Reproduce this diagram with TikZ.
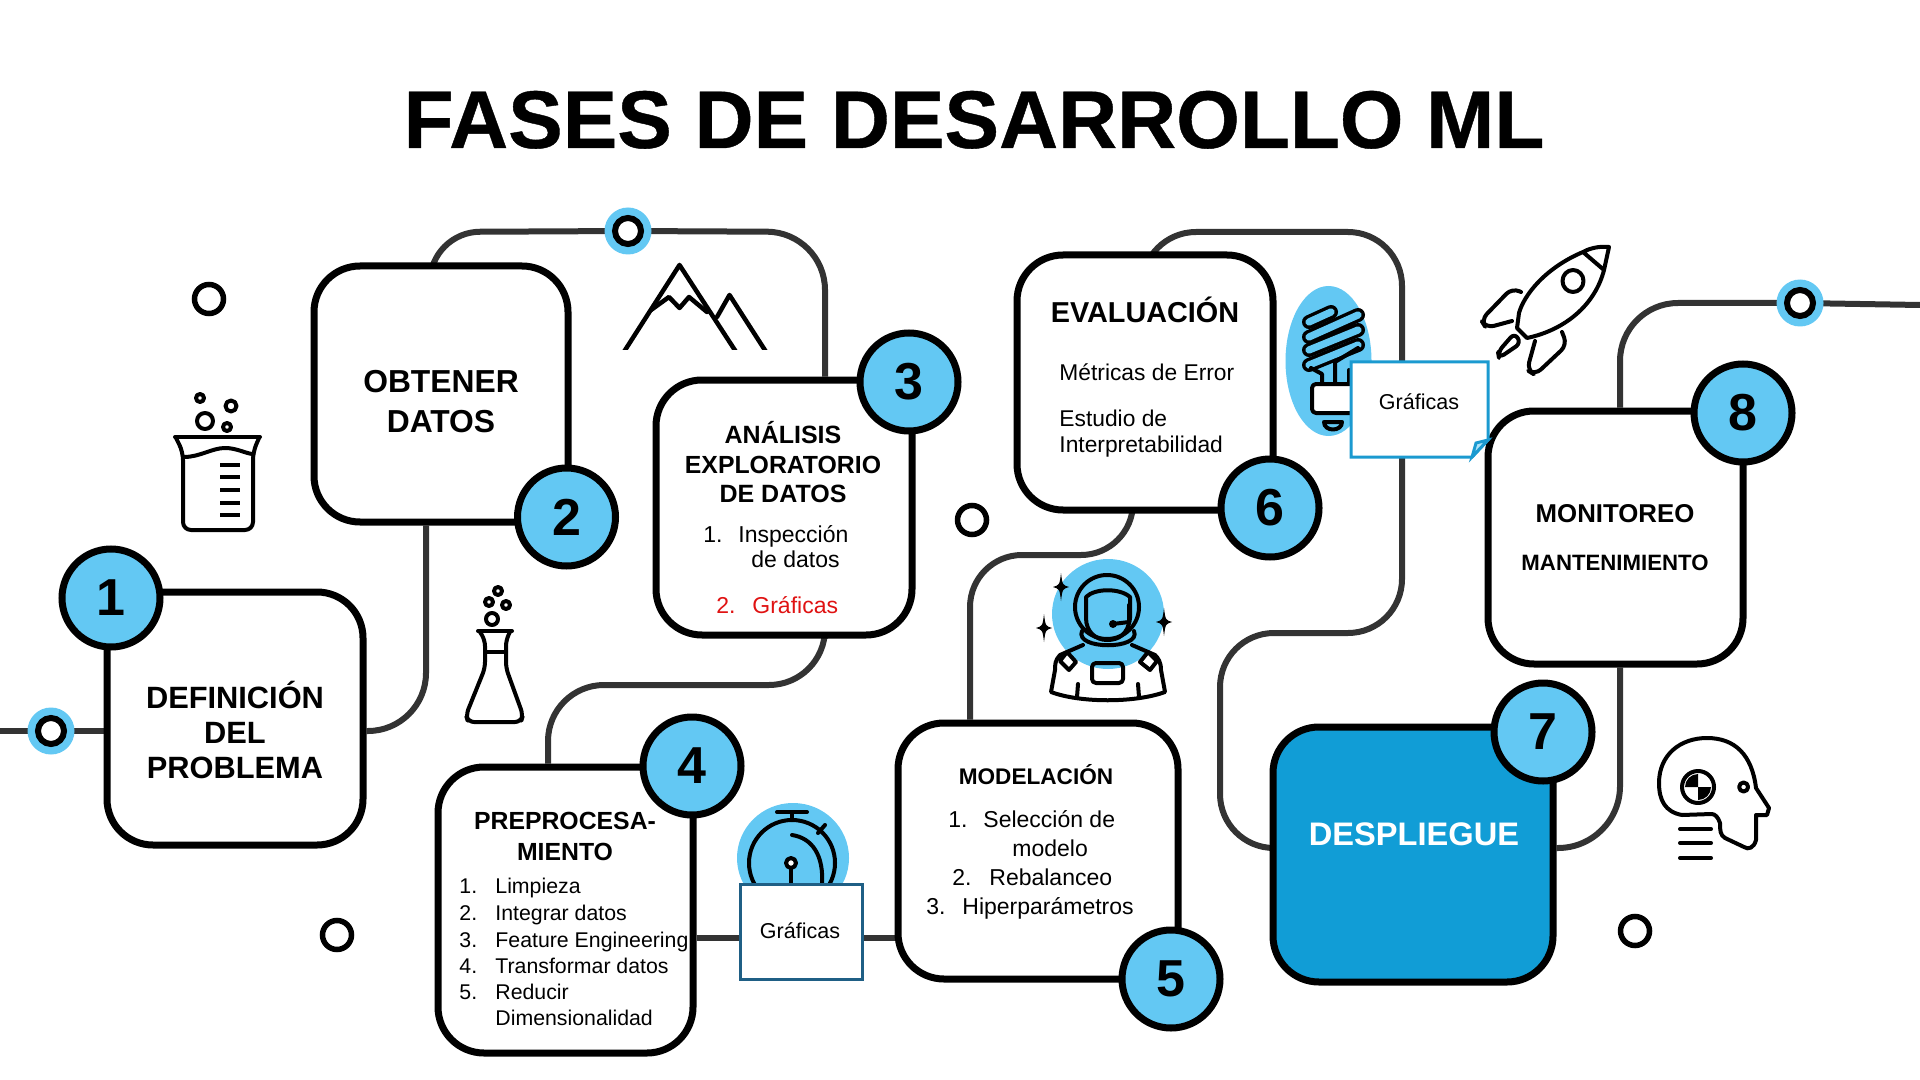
\documentclass[tikz,border=0pt]{standalone}
\usepackage{fontspec}
\setmainfont{Liberation Sans}
\newfontface\titlef[FakeBold=0.5]{Liberation Sans Bold}
\pgfdeclarelayer{bg}
\pgfsetlayers{bg,main}
\definecolor{cblue}{HTML}{63C8F3}
\definecolor{dblue}{HTML}{119DD6}
\definecolor{wirec}{HTML}{333333}
\definecolor{teal}{HTML}{1F5F85}
\definecolor{noteb}{HTML}{1B9AD0}
\definecolor{redt}{HTML}{E01212}
\newcommand\fs[1]{\fontsize{#1}{#1}\selectfont}
\tikzset{
  box/.style={draw=black,fill=white,line width=3.5pt,rounded corners=23pt,inner sep=0pt},
  numc/.style={circle,draw=black,fill=cblue,line width=3.5pt,minimum size=49pt,inner sep=0pt,font=\fs{26}\bfseries},
  ring/.style={circle,draw=black,fill=white,line width=2.75pt,minimum size=14.5pt,inner sep=0pt},
  hring/.style={circle,draw=black,fill=white,line width=3pt,minimum size=13pt,inner sep=0pt},
  halo/.style={circle,fill=cblue,minimum size=23.5pt,inner sep=0pt},
  wire/.style={draw=wirec,line width=3pt},
  ic/.style={draw=black,line width=2pt,line join=round,line cap=round},
  b/.style={anchor=base,inner sep=0pt},
  w/.style={anchor=base west,inner sep=0pt},
}
\begin{document}
\begin{tikzpicture}[x=0.5pt,y=-0.5pt]
\useasboundingbox (0,0) rectangle (1920,1080);
\begin{pgfonlayer}{bg}
\fill[white] (0,0) rectangle (1920,1080);
\end{pgfonlayer}

% title
\node[b,font=\fs{40.9}\titlef] (title) at (974,148) {FASES DE DESARROLLO ML};

% boxes
\node[box,minimum width=128pt,minimum height=126.5pt] (b1) at (235,718.5) {};
\node[box,minimum width=127pt,minimum height=128pt] (b2) at (441,394) {};
\node[box,minimum width=128pt,minimum height=127.5pt] (b3) at (784,507.5) {};
\node[box,minimum width=127.5pt,minimum height=143pt] (b4) at (565.5,910) {};
\node[box,minimum width=140pt,minimum height=128pt] (b5) at (1038,851) {};
\node[box,minimum width=128pt,minimum height=127.5pt] (b6) at (1145,382.5) {};
\node[box,fill=dblue,minimum width=140pt,minimum height=127.5pt] (b7) at (1413,854.5) {};
\node[box,minimum width=127.5pt,minimum height=126.5pt] (b8) at (1615.5,537.5) {};

% rings
\node[ring] (s1) at (209,299) {};
\node[ring] (s2) at (972,520) {};
\node[ring] (s3) at (337,935) {};
\node[ring] (s4) at (1635,931) {};
\node[halo] (h1) at (51,731) {};
\node[halo] (h2) at (628,231) {};
\node[halo] (h3) at (1800,303) {};
\node[hring] (r1) at (51,731) {};
\node[hring] (r2) at (628,231) {};
\node[hring] (r3) at (1800,303) {};

% connector way points
\coordinate (c0) at (0,731);
\coordinate (c1) at (1920,305);
\coordinate (k1) at (426,731);
\coordinate (k2) at (430,232);
\coordinate (k3) at (825,232);
\coordinate (k4) at (548,685);
\coordinate (k3b) at (825,685);
\coordinate (k5) at (800,938);
\coordinate (k6) at (970,555);
\coordinate (k7) at (1133,555);
\coordinate (k8) at (1142,232);
\coordinate (k9) at (1402,232);
\coordinate (k10) at (1402,633);
\coordinate (k11) at (1220,633);
\coordinate (k12) at (1220,848);
\coordinate (k13) at (1620,848);
\coordinate (k14) at (1620,303);

\begin{pgfonlayer}{bg}
\draw[wire] (c0) -- (b1.west |- c0);
\draw[wire,rounded corners=29pt] (b1.east |- k1) -- (k1) -- (k1 |- b2.south);
\draw[wire,rounded corners=25pt] (k2 |- b2.center) -- (k2) -- (r2);
\draw[wire,rounded corners=29pt] (r2) -- (k3) -- (k3 |- b3.north);
\draw[wire,rounded corners=28pt] (k3 |- b3.south) -- (k3b) -- (k4) -- (k4 |- b4.north);
\draw[wire] (b4.east |- k5) -- (b5.west |- k5);
\draw[wire,rounded corners=26pt] (k6 |- b5.north) -- (k6) -- (k7) -- (k7 |- b6.center);
\draw[wire,rounded corners=27pt] (k8 |- b6.center) -- (k8) -- (k9) -- (k10) -- (k11) -- (k12) -- (b7.west |- k12);
\draw[wire,rounded corners=31pt] (b7.east |- k13) -- (k13) -- (k13 |- b8.south);
\draw[wire,rounded corners=29pt] (k14 |- b8.north) -- (k14) -- (r3);
\draw[wire] (r3) -- (c1);
\end{pgfonlayer}

% number circles
\node[numc] (n1) at (111,598) {1};
\node[numc] (n2) at (566.5,517) {2};
\node[numc] (n3) at (909,382) {3};
\node[numc] (n4) at (692,766) {4};
\node[numc] (n5) at (1171,979) {5};
\node[numc] (n6) at (1270,508) {6};
\node[numc] (n7) at (1543,732) {7};
\node[numc] (n8) at (1743,413) {8};

% beaker
\draw[ic] (175,437) -- (260,437);
\draw[ic,rounded corners=4pt] (176,438) -- (183,452) -- (183,530) -- (253,530) -- (253,452) -- (259,438);
\draw[ic] (184,457) .. controls (200,457) and (212,448) .. (225,448) .. controls (236,448) and (245,453) .. (252,454);
\foreach \yy in {465,477,490,503,515} \draw[draw=black,line width=2pt] (220,\yy) -- (240,\yy);
\draw[ic] (200,398) circle (4);
\draw[ic] (231,406) circle (5.5);
\draw[ic] (205,421) circle (8);
\draw[ic] (227,427) circle (4);

% flask
\draw[ic] (478,631) -- (512,631);
\draw[ic] (485,652) -- (506,652);
\draw[ic,rounded corners=3pt] (480,632) -- (485,640) -- (485,668) -- (466,715) -- (468,722) -- (521,722) -- (523,715) -- (506,668) -- (506,640) -- (510,632);
\draw[ic] (492,619) circle (6);
\draw[ic] (489,602) circle (4);
\draw[ic] (506,605) circle (4);
\draw[ic] (498,591) circle (4);

% mountains
\begin{scope}
\clip (600,250) rectangle (790,350);
\draw[ic,line width=2.25pt] (620,358) -- (679.5,265) -- (740,358);
\draw[ic,line width=2.25pt] (717,317) -- (729.5,295) -- (770,358);
\draw[ic,line width=2.25pt] (651,310) -- (669,297) -- (679.5,308) -- (689,297) -- (707,312);
\end{scope}

% astronaut
\fill[cblue] (1108,614) ellipse [x radius=56,y radius=55];
\draw[ic] (1107,607) ellipse [x radius=32,y radius=32];
\draw[ic] (1086,597) .. controls (1095,588) and (1120,588) .. (1130,597) -- (1130,618) .. controls (1128,635) and (1118,640) .. (1107,640) .. controls (1096,640) and (1086,632) .. (1086,618) -- cycle;
\draw[ic] (1082,631) .. controls (1074,650) and (1142,650) .. (1134,631);
\draw[ic] (1083,645) -- (1060,655) .. controls (1055,660) and (1055,665) .. (1055,670) -- (1051,692) .. controls (1080,703) and (1135,703) .. (1165,692) -- (1161,670) .. controls (1161,662) and (1158,658) .. (1155,655) -- (1132,645);
\draw[ic,fill=white] (1060,661) -- (1067,652) -- (1076,662) -- (1069,670) -- cycle;
\draw[ic,fill=white] (1140,662) -- (1148,652) -- (1157,661) -- (1150,670) -- cycle;
\draw[ic,rounded corners=2pt] (1092,663) rectangle (1123,683);
\draw[ic] (1078,684) -- (1077,697);
\draw[ic] (1138,684) -- (1139,697);
\draw[ic] (1129,605) -- (1129,622) -- (1113,624);
\fill[black] (1113,624) circle (4);
\foreach \px/\py in {1061/587,1044/628,1164/622}
  \fill[black,shift={(\px,\py)}] (0,-14) .. controls (1.5,-2) .. (8,0) .. controls (1.5,2) .. (0,14) .. controls (-1.5,2) .. (-8,0) .. controls (-1.5,-2) .. (0,-14) -- cycle;

% bulb
\fill[cblue] (1328.5,361) ellipse [x radius=43,y radius=75];
\foreach \ax/\ay/\bx/\by in {1309/322/1331/312,1309/337/1358/315,1309/350/1358/330,1309/365/1358/345} {
  \draw[black,line width=7pt,line cap=round] (\ax,\ay) -- (\bx,\by);
  \draw[cblue,line width=3.6pt,line cap=round] (\ax,\ay) -- (\bx,\by);
}
\draw[ic] (1311,368) -- (1322,374) -- (1322,385);
\draw[ic] (1335,385) -- (1335,362) -- (1358,348);
\draw[ic] (1349,385) -- (1349,370);
\draw[ic,fill=white,rounded corners=2pt] (1312,384) rectangle (1362,413);
\draw[ic] (1324,422) -- (1342,422) .. controls (1342,432) and (1324,432) .. (1324,422) -- cycle;

% rocket
\draw[ic] (1583,252) .. controls (1545,268) and (1524,295) .. (1519,313) -- (1517,328) -- (1527,338) .. controls (1565,330) and (1595,305) .. (1604,270) -- (1609,247) .. controls (1600,246) and (1590,248) .. (1583,252) -- (1604,270);
\draw[ic] (1573,281) ellipse [x radius=10.5,y radius=11];
\draw[ic,rounded corners=4pt] (1521,292) -- (1512,288) -- (1481,320) -- (1486,328) -- (1512,321);
\draw[ic,rounded corners=4pt] (1562,332) -- (1567,345) -- (1535,375) -- (1527,370) -- (1535,341);
\draw[ic,rounded corners=3pt] (1514.5,333) -- (1498,352) -- (1499,358) -- (1521,343) -- cycle;

% head
\draw[ic] (1720,823) .. controls (1718,817) and (1715,814) .. (1711.5,814) -- (1682,815) .. controls (1665,812) and (1659,800) .. (1659,783) .. controls (1659,755) and (1680,738) .. (1707,738) .. controls (1735,738) and (1752,755) .. (1756,788) -- (1769,808) -- (1767,815) -- (1756,815) -- (1756,840) .. controls (1754,848) and (1748,850) .. (1744,847) -- (1725,838) .. controls (1720,835) and (1720,830) .. (1720,823) -- cycle;
\draw[ic] (1698,787) circle (16);
\fill[black] (1698,787) -- (1711,787) arc (0:-90:13 and -13) -- cycle;
\fill[black] (1698,787) -- (1685,787) arc (180:90:13 and -13) -- cycle;
\draw[ic] (1743.6,787) circle (4.5);
\foreach \yy in {829,843,858} \draw[ic] (1680,\yy) -- (1711,\yy);

% stopwatch
\fill[cblue] (793,858) ellipse [x radius=56,y radius=55];
\draw[ic] (792,863) circle (43);
\draw[ic] (777,812) -- (807,812);
\draw[ic] (792,812) -- (792,820);
\draw[ic] (825,825) -- (818,833);
\draw[ic] (792,835) .. controls (812,838) and (824,855) .. (822,885);
\draw[ic,fill=white] (791,863) circle (5);
\draw[ic] (791,868) -- (791,890);

% note boxes
\node[draw=teal,fill=white,line width=1.5pt,minimum width=61pt,minimum height=47.5pt,inner sep=0pt] (g1) at (801,931.5) {};
\node[b,font=\fs{10.75}] (g1t) at (800,938) {Gráficas};
\draw[draw=noteb,fill=white,line width=1.5pt] (1351,362) -- (1488,362) -- (1488,440) -- (1472,457) -- (1351,457) -- cycle;
\draw[draw=noteb,fill=cblue!50,line width=1.5pt] (1472,457) -- (1476,443) -- (1488,440) -- cycle;
\node[b,font=\fs{10.75}] (g2t) at (1419,409) {Gráficas};

% text
\node[b,font=\fs{15.4}\bfseries] (t1a) at (235,708) {DEFINICIÓN};
\node[b,font=\fs{15.4}\bfseries] (t1b) at (235,743) {DEL};
\node[b,font=\fs{15.4}\bfseries] (t1c) at (235,778) {PROBLEMA};
\node[b,font=\fs{15.9}\bfseries] (t2a) at (441,393) {OBTENER};
\node[b,font=\fs{15.9}\bfseries] (t2b) at (441,432) {DATOS};

\node[b,font=\fs{12.5}\bfseries] (t3a) at (783,443) {ANÁLISIS};
\node[b,font=\fs{12.4}\bfseries] (t3b) at (783,473) {EXPLORATORIO};
\node[b,font=\fs{12.5}\bfseries] (t3c) at (783,502) {DE DATOS};
\node[w,font=\fs{11.5}] (t3d) at (703,542) {1.};
\node[w,font=\fs{11.5}] (t3e) at (738,542) {Inspección};
\node[w,font=\fs{11.5}] (t3f) at (751,567) {de datos};
\node[w,font=\fs{11.5},text=redt] (t3g) at (716,613) {2.};
\node[w,font=\fs{11.5},text=redt] (t3h) at (752,613) {Gráficas};

\node[b,font=\fs{12.4}\bfseries] (t4a) at (565,829) {PREPROCESA-};
\node[b,font=\fs{12.4}\bfseries] (t4b) at (565,860) {MIENTO};
\foreach \nn/\yy/\tt in {1/893/Limpieza,2/920/Integrar datos,3/947/Feature Engineering,4/973/Transformar datos,5/999/Reducir} {
  \node[w,font=\fs{10.65}] (l\nn) at (459,\yy) {\nn.};
  \node[w,font=\fs{10.65}] (m\nn) at (495,\yy) {\tt};
}
\node[w,font=\fs{10.65}] (m6) at (495,1025) {Dimensionalidad};

\node[b,font=\fs{11.3}\bfseries] (t5a) at (1036,784) {MODELACIÓN};
\node[w,font=\fs{11.5}] (t5b) at (948,827) {1.};
\node[w,font=\fs{11.5}] (t5c) at (983,827) {Selección de};
\node[w,font=\fs{11.5}] (t5d) at (1012,856) {modelo};
\node[w,font=\fs{11.5}] (t5e) at (952,885) {2.};
\node[w,font=\fs{11.5}] (t5f) at (989,885) {Rebalanceo};
\node[w,font=\fs{11.5}] (t5g) at (926,914) {3.};
\node[w,font=\fs{11.5}] (t5h) at (962,914) {Hiperparámetros};

\node[b,font=\fs{14.4}\bfseries] (t6a) at (1145,322) {EVALUACIÓN};
\node[w,font=\fs{11.4}] (t6b) at (1059,380) {Métricas de Error};
\node[w,font=\fs{11.4}] (t6c) at (1059,426) {Estudio de};
\node[w,font=\fs{11.4}] (t6d) at (1059,452) {Interpretabilidad};

\node[b,font=\fs{16.3}\bfseries,text=white] (t7) at (1414,845) {DESPLIEGUE};
\node[b,font=\fs{12.9}\bfseries] (t8a) at (1615,522) {MONITOREO};
\node[b,font=\fs{11.1}\bfseries] (t8b) at (1615,570) {MANTENIMIENTO};
\end{tikzpicture}
\end{document}
